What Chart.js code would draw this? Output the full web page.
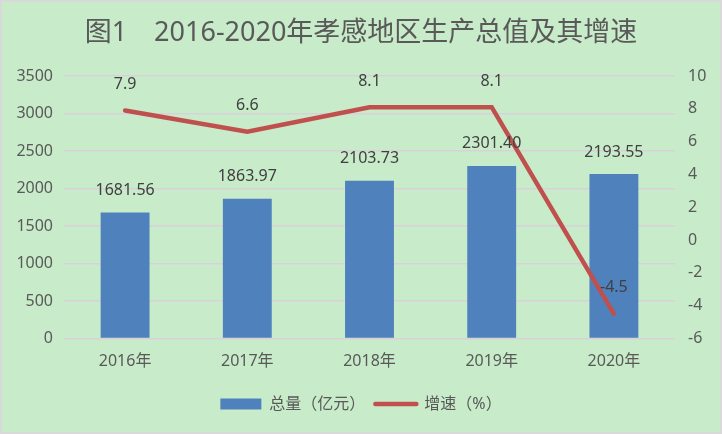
<!DOCTYPE html>
<html>
<head>
<meta charset="utf-8">
<script src="https://cdn.jsdelivr.net/npm/chart.js@4/dist/chart.umd.min.js"></script>
<style>
  html, body { margin: 0; padding: 0; background: #d9d9d9; }
  #wrap { position: absolute; left: 2px; top: 2px; width: 718px; height: 430px; background: #c8ebca; }
</style>
</head>
<body>
<div id="wrap"><canvas id="myChart"></canvas></div>
<script>
// chart data
const years = ['2016年', '2017年', '2018年', '2019年', '2020年'];
const totals = [1681.56, 1863.97, 2103.73, 2301.40, 2193.55];  // 亿元
const growth = [7.9, 6.6, 8.1, 8.1, -4.5];                      // %
const leftTicks = [0, 500, 1000, 1500, 2000, 2500, 3000, 3500];
const rightTicks = [-6, -4, -2, 0, 2, 4, 6, 8, 10];

const FONT = "'Noto Sans', 'Noto Sans CJK SC', sans-serif";

// draws the numbers above bars and line points
const valueLabels = {
  id: 'valueLabels',
  afterDatasetsDraw(chart) {
    const ctx = chart.ctx;
    ctx.save();
    ctx.font = '16px ' + FONT;
    ctx.fillStyle = '#404040';
    ctx.textAlign = 'center';
    ctx.textBaseline = 'middle';
    chart.data.datasets.forEach((ds, i) => {
      const meta = chart.getDatasetMeta(i);
      const isLine = ds.type === 'line';
      meta.data.forEach((el, j) => {
        const v = ds.data[j];
        ctx.fillText(isLine ? v.toFixed(1) : v.toFixed(2), el.x, el.y - (isLine ? 26 : 22));
      });
    });
    ctx.restore();
  }
};

window.onload = function () {
  const ctx = document.getElementById('myChart');
  const myChart = new Chart(ctx, {
    type: 'bar',
    data: {
      labels: years,
      datasets: [{
        label: '总量（亿元）',
        data: totals,
        backgroundColor: '#4f81bd',
        borderWidth: 0,
        barPercentage: 0.4,
        categoryPercentage: 1.0,
        yAxisID: 'y',
        order: 2
      }, {
        type: 'line',
        label: '增速（%）',
        data: growth,
        borderColor: '#c0504d',
        backgroundColor: '#c0504d',
        borderWidth: 4.5,
        borderCapStyle: 'round',
        pointRadius: 0,
        tension: 0,
        yAxisID: 'y1',
        order: 1
      }]
    },
    options: {
      responsive: true,
      maintainAspectRatio: false,
      animation: false,
      layout: { padding: { top: 0, left: 0, right: 0, bottom: 10 } },
      plugins: {
        title: {
          display: true,
          text: '图1　2016-2020年孝感地区生产总值及其增速',
          color: '#595959',
          font: { family: FONT, size: 27, weight: 'normal', lineHeight: 1.2 },
          padding: { top: 15, bottom: 26.6 }
        },
        legend: {
          position: 'bottom',
          labels: {
            color: '#595959',
            font: { family: FONT, size: 16 },
            usePointStyle: true,
            pointStyleWidth: 41,
            boxHeight: 11,
            padding: 10,
            sort: (a, b) => a.datasetIndex - b.datasetIndex,
            generateLabels(chart) {
              const items = Chart.defaults.plugins.legend.labels.generateLabels(chart);
              items.forEach(it => {
                const ds = chart.data.datasets[it.datasetIndex];
                it.pointStyle = ds.type === 'line' ? 'line' : 'rect';
                it.lineCap = 'round';
              });
              return items;
            }
          }
        },
        tooltip: { enabled: false }
      },
      scales: {
        x: {
          grid: { display: false, drawTicks: false },
          border: { display: false },
          ticks: { color: '#595959', font: { family: FONT, size: 16 }, padding: 13.4 },
          afterFit(scale) { scale.height = 47.5; }
        },
        y: {
          position: 'left',
          min: 0,
          max: 3500,
          afterBuildTicks(scale) { scale.ticks = leftTicks.map(v => ({ value: v })); },
          grid: { color: '#d9d1d9', lineWidth: 1.5, drawTicks: false },
          border: { display: false },
          ticks: { color: '#595959', font: { family: FONT, size: 16 }, padding: 11, callback: v => String(v) },
          afterFit(scale) { scale.width = 62; }
        },
        y1: {
          position: 'right',
          min: -6,
          max: 10,
          afterBuildTicks(scale) { scale.ticks = rightTicks.map(v => ({ value: v })); },
          grid: { display: false, drawTicks: false },
          border: { display: false },
          ticks: { color: '#595959', font: { family: FONT, size: 16 }, padding: 13, callback: v => String(v) },
          afterFit(scale) { scale.width = 45; }
        }
      }
    },
    plugins: [valueLabels]
  });
};
</script>
</body>
</html>
